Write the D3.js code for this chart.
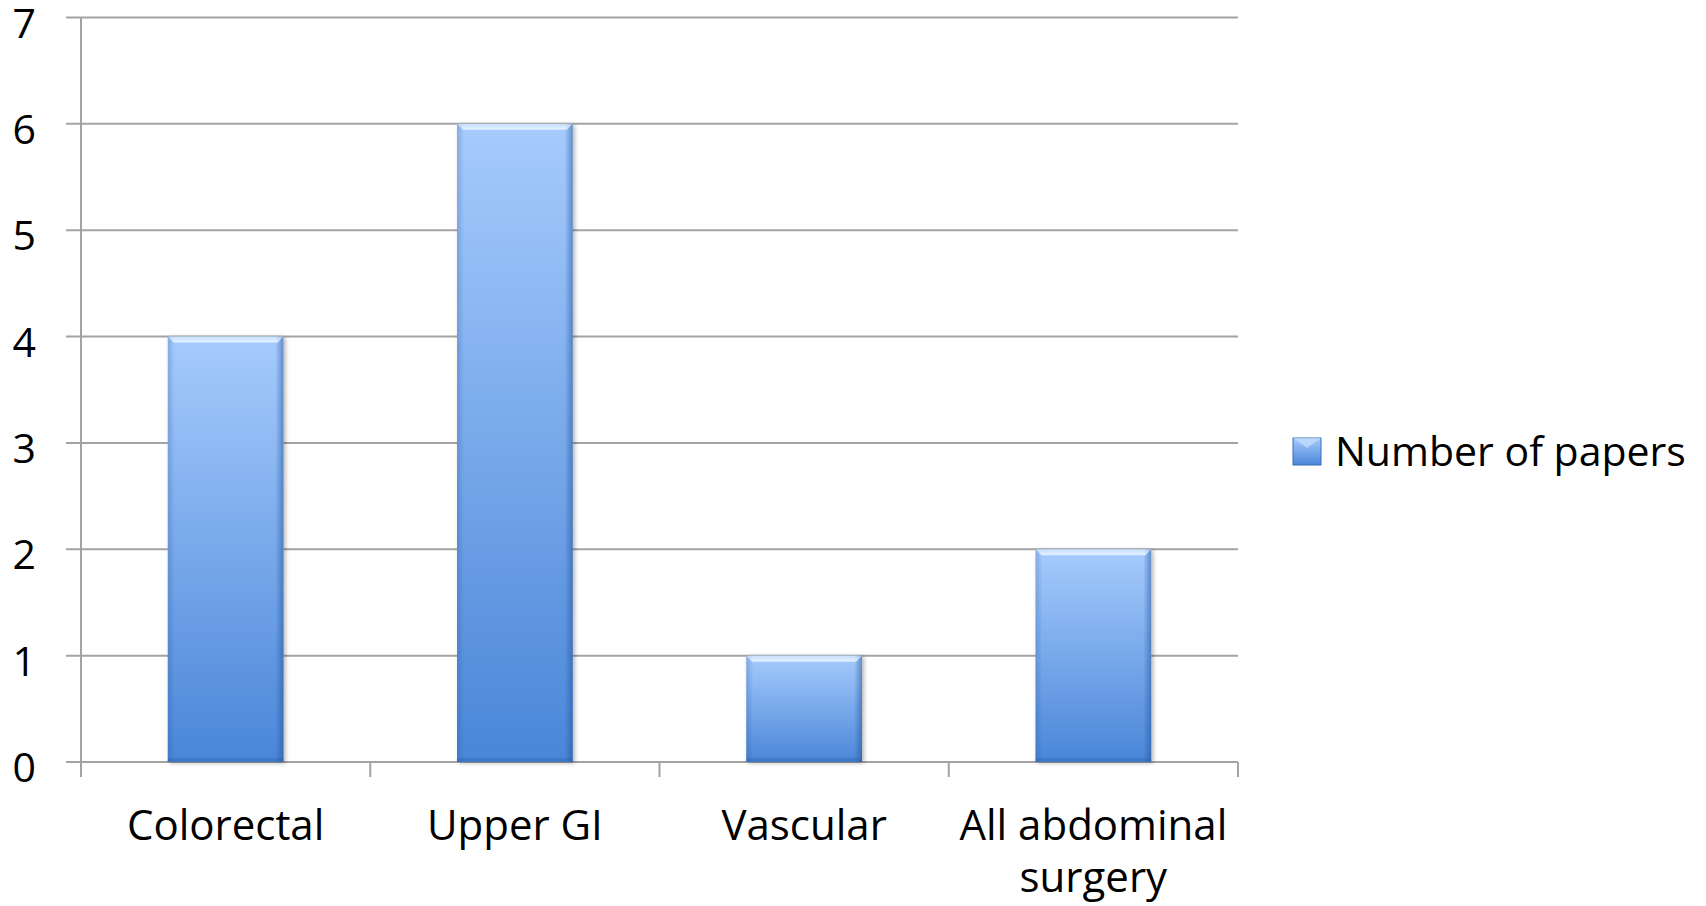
<!DOCTYPE html>
<html>
<head>
<meta charset="utf-8">
<script src="https://cdn.jsdelivr.net/npm/d3@7"></script>
<style>
  html, body { margin: 0; padding: 0; background: #ffffff; }
  svg { display: block; }
  text { font-family: "Open Sans", "Lato", sans-serif; fill: #000; }
</style>
</head>
<body>
<svg id="chart" width="1706" height="906"></svg>
<script>
// Papers by surgical specialty
const categories = ["Colorectal", "Upper GI", "Vascular", "All abdominal surgery"];
const categoryLines = [["Colorectal"], ["Upper GI"], ["Vascular"], ["All abdominal", "surgery"]];
const seriesName = "Number of papers";
const paperCounts = [4, 6, 1, 2];
const yTicks = [0, 1, 2, 3, 4, 5, 6, 7];

const svg = d3.select("#chart");
const plot = { left: 81, right: 1238, top: 17.5, bottom: 762 };

const x = d3.scaleBand().domain(categories).range([plot.left, plot.right]).paddingInner(0.6).paddingOuter(0.3);
const xEdges = d3.scaleBand().domain(categories).range([plot.left, plot.right]);
const y = d3.scaleLinear().domain([0, 7]).range([plot.bottom, plot.top]);

const defs = svg.append("defs");
const grad = defs.append("linearGradient").attr("id", "barFill").attr("x1", 0).attr("y1", 0).attr("x2", 0).attr("y2", 1);
grad.append("stop").attr("offset", "0%").attr("stop-color", "#a6cbfd");
grad.append("stop").attr("offset", "100%").attr("stop-color", "#4a86d8");
const side = defs.append("linearGradient").attr("id", "sideShade").attr("x1", 0).attr("y1", 0).attr("x2", 1).attr("y2", 0);
side.append("stop").attr("offset", "0%").attr("stop-color", "#1f4f96").attr("stop-opacity", 0.25);
side.append("stop").attr("offset", "6%").attr("stop-color", "#1f4f96").attr("stop-opacity", 0);
side.append("stop").attr("offset", "93%").attr("stop-color", "#1f4f96").attr("stop-opacity", 0);
side.append("stop").attr("offset", "100%").attr("stop-color", "#1f4f96").attr("stop-opacity", 0.5);
const topHi = defs.append("linearGradient").attr("id", "topHi").attr("x1", 0).attr("y1", 0).attr("x2", 0).attr("y2", 1);
topHi.append("stop").attr("offset", "0%").attr("stop-color", "#ffffff").attr("stop-opacity", 0.35);
topHi.append("stop").attr("offset", "100%").attr("stop-color", "#e8f6ff").attr("stop-opacity", 0.9);
const shadow = defs.append("filter").attr("id", "barShadow").attr("x", "-10%").attr("y", "-10%").attr("width", "130%").attr("height", "130%");
shadow.append("feDropShadow").attr("dx", 2).attr("dy", 1).attr("stdDeviation", 2).attr("flood-color", "#000").attr("flood-opacity", 0.3);

// Horizontal gridlines with left tick stubs
svg.append("g").selectAll("line").data(yTicks).join("line")
  .attr("x1", plot.left - 15).attr("x2", plot.right)
  .attr("y1", d => y(d)).attr("y2", d => y(d))
  .attr("stroke", "#a3a3a3").attr("stroke-width", 2);

// Value axis line
svg.append("line").attr("x1", plot.left).attr("x2", plot.left)
  .attr("y1", y(7)).attr("y2", plot.bottom + 15)
  .attr("stroke", "#a3a3a3").attr("stroke-width", 2);

// Category boundary ticks
const boundaries = categories.map(c => xEdges(c) + xEdges.bandwidth()).concat([plot.left]);
svg.append("g").selectAll("line").data(boundaries).join("line")
  .attr("x1", d => d).attr("x2", d => d)
  .attr("y1", plot.bottom).attr("y2", plot.bottom + 15)
  .attr("stroke", "#a3a3a3").attr("stroke-width", 2);

// Y tick labels
svg.append("g").selectAll("text").data(yTicks).join("text")
  .attr("x", 36).attr("y", d => y(d) + 20)
  .attr("text-anchor", "end")
  .attr("font-size", 41)
  .text(d => d);

// Bars
const bars = svg.append("g").selectAll("g").data(paperCounts).join("g");
bars.append("rect")
  .attr("x", (d, i) => x(categories[i])).attr("width", x.bandwidth())
  .attr("y", d => y(d)).attr("height", d => y(0) - y(d))
  .attr("fill", "url(#barFill)").attr("filter", "url(#barShadow)");
bars.append("rect")
  .attr("x", (d, i) => x(categories[i])).attr("width", x.bandwidth())
  .attr("y", d => y(d)).attr("height", d => y(0) - y(d))
  .attr("fill", "url(#sideShade)");
bars.append("polygon")
  .attr("points", (d, i) => {
    const x0 = x(categories[i]), x1 = x0 + x.bandwidth(), y0 = y(d), b = 6;
    return [[x0, y0], [x1, y0], [x1 - b, y0 + b], [x0 + b, y0 + b]].join(" ");
  })
  .attr("fill", "url(#topHi)");
bars.append("rect")
  .attr("x", (d, i) => x(categories[i])).attr("width", x.bandwidth())
  .attr("y", y(0) - 4).attr("height", 4)
  .attr("fill", "#2d5fa8").attr("opacity", 0.35);

// Category labels
const catLabels = svg.append("g").selectAll("text").data(categoryLines).join("text")
  .attr("text-anchor", "middle")
  .attr("font-size", 42)
  .attr("x", (d, i) => xEdges(categories[i]) + xEdges.bandwidth() / 2)
  .attr("y", 840);
catLabels.selectAll("tspan").data(d => d).join("tspan")
  .attr("x", function () { return d3.select(this.parentNode).attr("x"); })
  .attr("dy", (d, j) => j === 0 ? 0 : 52)
  .text(d => d);

// Legend
const legend = svg.append("g");
legend.append("rect").attr("x", 1293).attr("y", 438).attr("width", 28).attr("height", 27)
  .attr("fill", "url(#barFill)").attr("stroke", "#3b6fb8").attr("stroke-width", 1);
legend.append("polygon").attr("points", "1293,438 1321,438 1307,448").attr("fill", "#cfe6ff").attr("opacity", 0.6);
legend.append("text").attr("x", 1335).attr("y", 466).attr("font-size", 41).text(seriesName);
</script>
</body>
</html>
